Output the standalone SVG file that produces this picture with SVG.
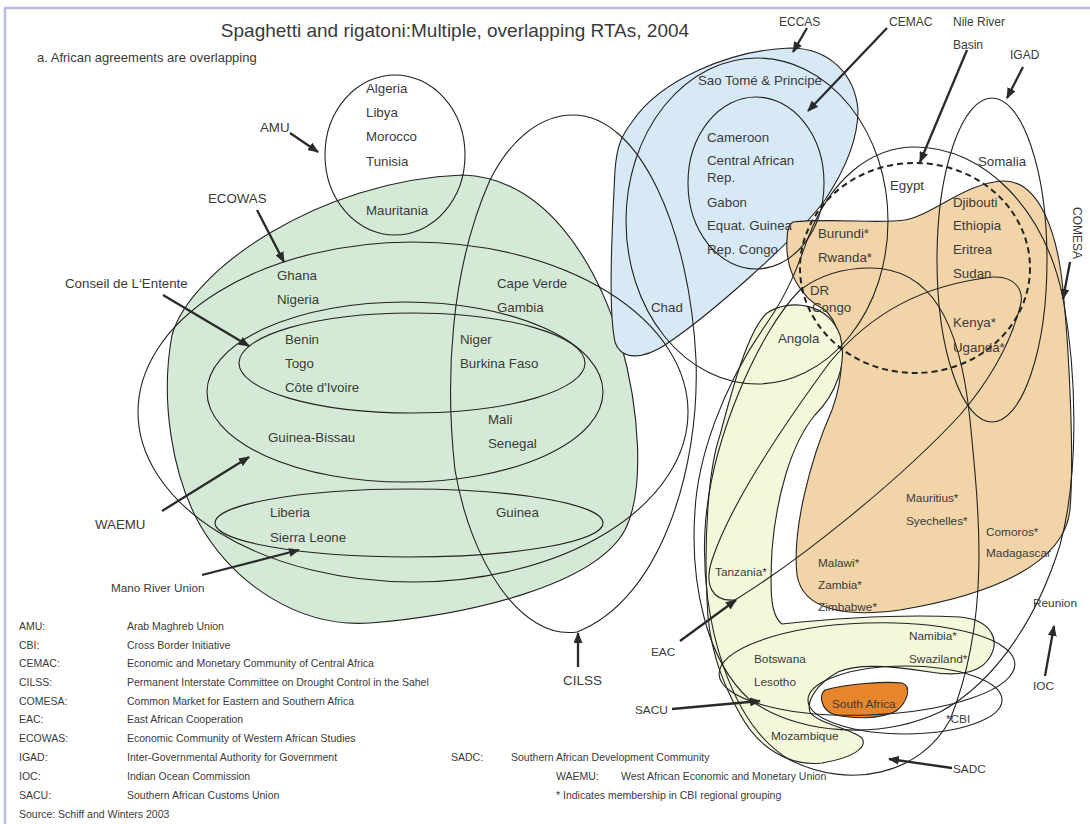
<svg xmlns="http://www.w3.org/2000/svg" width="1090" height="824" viewBox="0 0 1090 824">
<defs>
<marker id="ah" markerUnits="userSpaceOnUse" markerWidth="11" markerHeight="9" refX="10" refY="4.5" orient="auto">
<path d="M0,0 L11,4.5 L0,9 Z" fill="#2a2a2a"/>
</marker>
<style>
text{font-family:"Liberation Sans",Arial,sans-serif;fill:#3a3a3a}
.c{font-size:13.3px}
.s{font-size:11.8px}
.t{font-size:12px}
.l{font-size:10.5px}
.o{fill:none;stroke:#222;stroke-width:1.1}
.d{fill:none;stroke:#222;stroke-width:2;stroke-dasharray:6 4}
.a{fill:none;stroke:#2a2a2a;stroke-width:2.3;marker-end:url(#ah)}
</style>
</defs>
<rect width="1090" height="824" fill="#fff"/>
<rect x="5" y="8" width="1100" height="830" fill="none" stroke="#b8bde0" stroke-width="2.5"/>
<text x="455" y="37" text-anchor="middle" style="font-size:19px">Spaghetti and rigatoni:Multiple, overlapping RTAs, 2004</text>
<text x="37" y="62" style="font-size:13px">a. African agreements are overlapping</text>

<g id="fills">
<path id="green" d="M463,175 C545,178 595,260 620,340 C640,410 645,490 625,530 C595,585 470,615 370,623 C300,628 235,585 200,525 C172,475 160,400 172,335 C190,270 320,180 463,175 Z" fill="#d4ead6" stroke="#222" stroke-width="1.1"/>
<path id="blue" d="M632,122 C660,80 730,50 790,48 C830,48 855,75 858,110 C858,140 845,170 825,200 C795,240 710,315 665,345 C645,358 622,362 615,342 C608,310 612,230 615,170 C617,145 622,135 632,122 Z" fill="#d8e9f6" stroke="#222" stroke-width="1.1"/>
<path id="orange" d="M793,222 C830,218 880,224 905,220 C935,214 965,183 1003,181 C1040,180 1058,235 1063,290 C1070,360 1074,460 1070,510 C1064,565 990,595 900,610 C850,617 803,612 797,575 C792,530 810,460 832,410 C845,375 846,330 825,310 C800,298 785,270 787,240 C787,230 789,224 793,222 Z" fill="#f1d4a8" stroke="#222" stroke-width="1.1"/>
<path id="yellow" d="M767,313 C790,298 828,303 840,335 C848,365 835,395 815,415 C790,445 776,500 772,550 C770,590 770,615 782,624 C830,619 900,614 960,617 C992,620 1000,640 990,657 C980,674 955,676 930,672 C900,667 860,662 838,672 C818,683 806,700 810,712 C818,724 850,728 862,738 C868,748 852,758 822,763 C790,767 758,748 740,714 C720,680 708,640 707,600 C704,540 708,470 720,435 C732,390 748,330 767,313 Z" fill="#f4f7d9" stroke="#222" stroke-width="1.1"/>
<path id="southafrica" d="M825,690 C845,684 885,681 902,683 C912,686 908,702 896,711 C880,720 850,719 833,714 C822,710 818,696 825,690 Z" fill="#e6852b" stroke="#222" stroke-width="1.1"/>
</g>

<g id="outlines">
<ellipse id="amu" class="o" cx="395" cy="155" rx="70" ry="80"/>
<ellipse id="ecowas" class="o" cx="413" cy="412" rx="275" ry="170"/>
<ellipse id="waemu" class="o" cx="405" cy="392" rx="198" ry="90"/>
<ellipse id="conseil" class="o" cx="412" cy="363" rx="173" ry="50"/>
<ellipse id="mano" class="o" cx="409" cy="523" rx="194" ry="34"/>
<path id="cilss" class="o" d="M573,115 C640,115 690,230 696,360 C700,470 660,600 577,632 C520,640 470,560 455,470 C445,380 450,270 490,180 C510,140 540,115 573,115 Z"/>
<ellipse id="eccas" class="o" cx="757" cy="221" rx="131" ry="163"/>
<ellipse id="cemac" class="o" cx="756" cy="183" rx="68" ry="86"/>
<ellipse id="nile" class="d" cx="915" cy="268" rx="115" ry="105"/>
<ellipse id="igad" class="o" cx="992" cy="260" rx="55" ry="162"/>
<path id="big" class="o" d="M915,147 C985,147 1045,210 1063,298 C1078,380 1078,480 1060,545 C1040,610 1000,680 940,712 C880,740 800,735 750,700 C705,660 690,580 695,510 C698,460 720,390 767,323 C790,290 800,260 808,238 C830,180 870,147 915,147 Z"/>
<path id="sadc" class="o" d="M870,268 C930,268 960,320 970,420 C980,520 990,620 950,720 C920,775 850,790 790,760 C730,725 700,620 705,530 C710,440 760,330 800,290 C820,275 845,268 870,268 Z"/>
<path id="eac" class="o" d="M735,600 C712,602 704,585 712,560 C730,505 780,430 830,362 C870,315 920,285 993,277 C1015,276 1025,290 1020,307 C1010,345 990,380 960,415 C900,480 800,560 735,600 Z"/>
<ellipse id="sacu" class="o" cx="867" cy="669" rx="148" ry="46" transform="rotate(-2 867 669)"/>
<ellipse id="cbi" class="o" cx="905" cy="700" rx="97" ry="34"/>
</g>

<g id="connectors">
<line class="a" x1="290" y1="133" x2="318" y2="152"/>
<line class="a" x1="257" y1="210" x2="284" y2="262"/>
<line class="a" x1="163" y1="295" x2="249" y2="346"/>
<line class="a" x1="162" y1="511" x2="249" y2="457"/>
<line class="a" x1="202" y1="575" x2="299" y2="550"/>
<line class="a" x1="578" y1="667" x2="578" y2="633"/>
<line class="a" x1="807" y1="28" x2="793" y2="52"/>
<line class="a" x1="887" y1="28" x2="808" y2="111"/>
<line class="a" x1="967" y1="50" x2="920" y2="162"/>
<line class="a" x1="1023" y1="67" x2="1007" y2="98"/>
<line class="a" x1="1070" y1="262" x2="1063" y2="299"/>
<line class="a" x1="680" y1="641" x2="736" y2="600"/>
<line class="a" x1="672" y1="709" x2="760" y2="701"/>
<line class="a" x1="952" y1="768" x2="889" y2="759"/>
<line class="a" x1="1045" y1="676" x2="1054" y2="626"/>
</g>

<g id="labels">
<text class="c" x="366" y="93">Algeria</text>
<text class="c" x="366" y="117">Libya</text>
<text class="c" x="366" y="141">Morocco</text>
<text class="c" x="366" y="166">Tunisia</text>
<text class="c" x="366" y="215">Mauritania</text>
<text class="c" x="260" y="132">AMU</text>
<text class="c" x="208" y="203">ECOWAS</text>
<text class="c" x="65" y="288">Conseil de L‘Entente</text>
<text class="c" x="277" y="280">Ghana</text>
<text class="c" x="277" y="304">Nigeria</text>
<text class="c" x="285" y="344">Benin</text>
<text class="c" x="285" y="368">Togo</text>
<text class="c" x="285" y="392">Côte d'Ivoire</text>
<text class="c" x="268" y="442">Guinea-Bissau</text>
<text class="c" x="95" y="529">WAEMU</text>
<text class="c" x="270" y="517">Liberia</text>
<text class="c" x="270" y="542">Sierra Leone</text>
<text x="111" y="592" style="font-size:11.7px">Mano River Union</text>
<text class="c" x="497" y="288">Cape Verde</text>
<text class="c" x="497" y="312">Gambia</text>
<text class="c" x="460" y="344">Niger</text>
<text class="c" x="460" y="368">Burkina Faso</text>
<text class="c" x="488" y="424">Mali</text>
<text class="c" x="488" y="448">Senegal</text>
<text class="c" x="496" y="517">Guinea</text>
<text x="563" y="685" style="font-size:13.5px">CILSS</text>
<text class="c" x="698" y="85">Sao Tomé &amp; Principe</text>
<text class="c" x="707" y="142">Cameroon</text>
<text class="c" x="707" y="165">Central African</text>
<text class="c" x="707" y="182">Rep.</text>
<text class="c" x="707" y="207">Gabon</text>
<text class="c" x="707" y="230">Equat. Guinea</text>
<text class="c" x="707" y="254">Rep. Congo</text>
<text class="c" x="651" y="312">Chad</text>
<text class="t" x="779" y="26">ECCAS</text>
<text class="t" x="889" y="26">CEMAC</text>
<text class="t" x="953" y="26">Nile River</text>
<text class="t" x="953" y="49">Basin</text>
<text class="t" x="1010" y="59">IGAD</text>
<text class="t" x="1073" y="207" transform="rotate(90 1073 207)">COMESA</text>
<text class="c" x="890" y="190">Egypt</text>
<text class="c" x="978" y="166">Somalia</text>
<text class="c" x="953" y="207">Djibouti</text>
<text class="c" x="953" y="230">Ethiopia</text>
<text class="c" x="953" y="254">Eritrea</text>
<text class="c" x="953" y="278">Sudan</text>
<text class="c" x="953" y="327">Kenya*</text>
<text class="c" x="953" y="352">Uganda*</text>
<text class="c" x="818" y="238">Burundi*</text>
<text class="c" x="818" y="262">Rwanda*</text>
<text class="c" x="810" y="295">DR</text>
<text class="c" x="812" y="312">Congo</text>
<text class="c" x="778" y="343">Angola</text>
<text class="s" x="715" y="576">Tanzania*</text>
<text class="s" x="818" y="567">Malawi*</text>
<text class="s" x="818" y="589">Zambia*</text>
<text class="s" x="818" y="611">Zimbabwe*</text>
<text class="s" x="906" y="502">Mauritius*</text>
<text class="s" x="906" y="525">Syechelles*</text>
<text class="s" x="986" y="536">Comoros*</text>
<text class="s" x="986" y="557">Madagascar</text>
<text class="s" x="1033" y="607">Reunion</text>
<text class="s" x="909" y="640">Namibia*</text>
<text class="s" x="909" y="663">Swaziland*</text>
<text class="s" x="754" y="663">Botswana</text>
<text class="s" x="754" y="686">Lesotho</text>
<text class="s" x="832" y="708">South Africa</text>
<text class="s" x="771" y="740">Mozambique</text>
<text class="s" x="946" y="723">*CBI</text>
<text class="s" x="651" y="656">EAC</text>
<text class="s" x="635" y="714">SACU</text>
<text class="s" x="953" y="773">SADC</text>
<text class="s" x="1033" y="690">IOC</text>
</g>

<g id="legend">
<text class="l" x="19" y="630">AMU:</text><text class="l" x="127" y="630">Arab Maghreb Union</text>
<text class="l" x="19" y="649">CBI:</text><text class="l" x="127" y="649">Cross Border Initiative</text>
<text class="l" x="19" y="667">CEMAC:</text><text class="l" x="127" y="667">Economic and Monetary Community of Central Africa</text>
<text class="l" x="19" y="686">CILSS:</text><text class="l" x="127" y="686">Permanent Interstate Committee on Drought Control in the Sahel</text>
<text class="l" x="19" y="705">COMESA:</text><text class="l" x="127" y="705">Common Market for Eastern and Southern Africa</text>
<text class="l" x="19" y="723">EAC:</text><text class="l" x="127" y="723">East African Cooperation</text>
<text class="l" x="19" y="742">ECOWAS:</text><text class="l" x="127" y="742">Economic Community of Western African Studies</text>
<text class="l" x="19" y="761">IGAD:</text><text class="l" x="127" y="761">Inter-Governmental Authority for Government</text>
<text class="l" x="19" y="780">IOC:</text><text class="l" x="127" y="780">Indian Ocean Commission</text>
<text class="l" x="19" y="799">SACU:</text><text class="l" x="127" y="799">Southern African Customs Union</text>
<text class="l" x="19" y="818">Source: Schiff and Winters 2003</text>
<text class="l" x="451" y="761">SADC:</text><text class="l" x="511" y="761">Southern African Development Community</text>
<text class="l" x="556" y="780">WAEMU:</text><text class="l" x="621" y="780">West African Economic and Monetary Union</text>
<text class="l" x="556" y="799">* Indicates membership in CBI regional grouping</text>
</g>
</svg>
